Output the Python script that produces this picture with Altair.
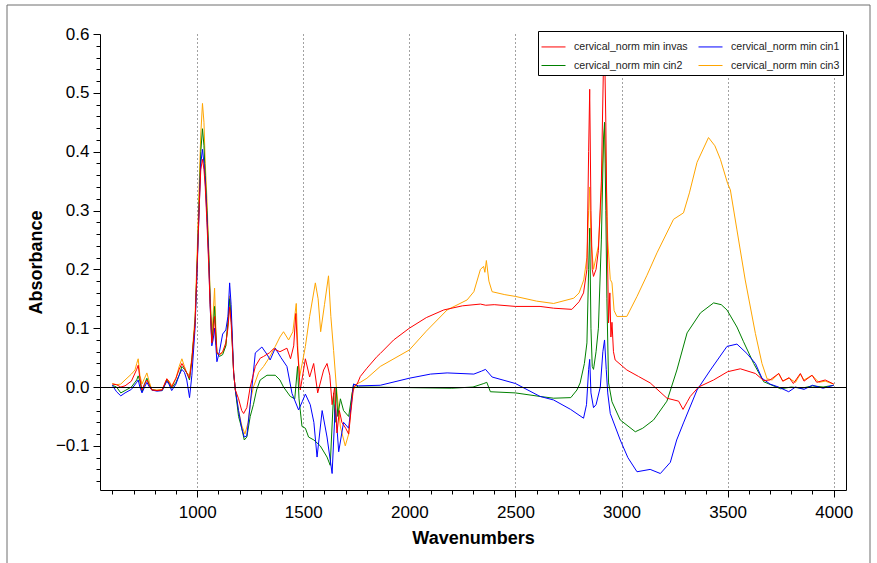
import altair as alt
import pandas as pd

# ---- spectra: wavenumber (cm-1) and absorbance for each sample group ----
series_labels = [
    "cervical_norm min invas",
    "cervical_norm min cin1",
    "cervical_norm min cin2",
    "cervical_norm min cin3",
]
series_colors = ["#ff0000", "#0000ff", "#008000", "#ffa500"]

wn_invas = [600, 620, 640, 660, 690, 715, 722, 730, 740, 752, 763, 775, 786, 810, 835, 857, 868, 880,
            900, 915, 928, 940, 951, 964, 975, 990, 1000, 1010, 1017, 1025, 1032, 1038, 1046, 1054,
            1061, 1069, 1075, 1082, 1088, 1093, 1105, 1120, 1135, 1145, 1153, 1160, 1172, 1180, 1195,
            1210, 1219, 1234, 1250, 1274, 1297, 1313, 1340, 1360, 1390, 1423, 1440, 1455, 1465, 1472,
            1486, 1510, 1530, 1549, 1568, 1596, 1612, 1625, 1636, 1648, 1659, 1670, 1682, 1700, 1714,
            1725, 1737, 1754, 1769, 1800, 1848, 1863, 1926, 2000, 2080, 2162, 2250, 2335, 2360, 2400,
            2500, 2616, 2680, 2766, 2800, 2821, 2837, 2845, 2850, 2856, 2862, 2868, 2880, 2891, 2905,
            2915, 2920, 2926, 2931, 2939, 2945, 2950, 2955, 2962, 2970, 3025, 3080, 3135, 3214, 3269,
            3290, 3310, 3324, 3363, 3434, 3500, 3560, 3631, 3670, 3700, 3741, 3760, 3790, 3810, 3843,
            3860, 3898, 3920, 3960, 4000]
abs_invas = [0.005, 0.004, 0.0, 0.002, 0.01, 0.03, 0.037, 0.015, -0.005, 0.005, 0.012, 0.003, -0.005,
             -0.006, -0.005, 0.014, 0.008, 0.0, 0.015, 0.03, 0.04, 0.032, 0.024, 0.015, 0.046, 0.109,
             0.21, 0.31, 0.37, 0.387, 0.37, 0.34, 0.28, 0.21, 0.14, 0.075, 0.09, 0.12, 0.085, 0.058,
             0.055, 0.06, 0.075, 0.1, 0.136, 0.11, 0.024, -0.005, -0.02, -0.04, -0.045, -0.035, 0.0,
             0.035, 0.049, 0.052, 0.058, 0.065, 0.06, 0.066, 0.048, 0.07, 0.125, 0.07, -0.005, 0.048,
             0.017, 0.04, -0.01, 0.029, 0.04, 0.02, -0.03, 0.0, -0.078, -0.04, -0.06, -0.07, -0.08,
             -0.04, 0.0, 0.005, 0.018, 0.032, 0.052, 0.057, 0.08, 0.1, 0.118, 0.131, 0.138, 0.141,
             0.139, 0.14, 0.137, 0.137, 0.134, 0.132, 0.145, 0.16, 0.2, 0.4, 0.506, 0.3, 0.2, 0.188,
             0.2, 0.232, 0.35, 0.55, 0.58, 0.45, 0.29, 0.109, 0.16, 0.085, 0.11, 0.06, 0.046, 0.029,
             0.018, 0.007, -0.019, -0.024, -0.038, -0.025, -0.016, 0.0, 0.012, 0.026, 0.031, 0.023,
             0.011, 0.012, 0.023, 0.01, 0.016, 0.006, 0.023, 0.01, 0.02, 0.008, 0.012, 0.005]

wn_cin1 = [600, 620, 640, 660, 690, 715, 722, 730, 740, 752, 763, 775, 786, 810, 835, 857, 868, 880,
           900, 915, 928, 940, 951, 964, 975, 990, 1000, 1010, 1017, 1025, 1032, 1038, 1046, 1054,
           1061, 1069, 1075, 1082, 1088, 1093, 1105, 1120, 1135, 1145, 1153, 1160, 1172, 1180, 1195,
           1210, 1222, 1234, 1250, 1274, 1305, 1330, 1344, 1368, 1395, 1423, 1447, 1478, 1495, 1510,
           1533, 1550, 1565, 1589, 1612, 1636, 1651, 1667, 1690, 1714, 1737, 1760, 1863, 2000, 2100,
           2178, 2304, 2340, 2359, 2390, 2500, 2616, 2680, 2760, 2821, 2835, 2845, 2850, 2856, 2868,
           2880, 2900, 2912, 2920, 2928, 2935, 2947, 2994, 3030, 3073, 3135, 3183, 3230, 3260, 3292,
           3356, 3419, 3497, 3544, 3591, 3631, 3662, 3700, 3740, 3788, 3820, 3860, 3900, 3950, 4000]
abs_cin1 = [0.003, -0.008, -0.015, -0.01, -0.004, 0.008, 0.012, 0.0, -0.01, 0.0, 0.008, 0.0, -0.005,
            -0.007, -0.006, 0.01, 0.004, -0.006, 0.005, 0.02, 0.03, 0.025, 0.012, -0.018, 0.02, 0.1,
            0.2, 0.31, 0.38, 0.404, 0.38, 0.35, 0.29, 0.22, 0.14, 0.07, 0.08, 0.1, 0.07, 0.043, 0.06,
            0.09, 0.097, 0.12, 0.177, 0.14, 0.024, -0.005, -0.04, -0.07, -0.085, -0.083, -0.03, 0.058,
            0.068, 0.055, 0.046, 0.066, 0.05, 0.035, -0.011, -0.039, -0.025, -0.012, -0.03, -0.06,
            -0.119, -0.04, -0.085, -0.147, -0.03, -0.11, -0.06, -0.07, 0.005, 0.002, 0.003, 0.015,
            0.022, 0.024, 0.022, 0.027, 0.03, 0.017, 0.006, -0.016, -0.022, -0.038, -0.053, -0.03,
            0.03, 0.047, -0.01, -0.035, -0.03, 0.0, 0.06, 0.08, 0.03, -0.01, -0.045, -0.09, -0.12,
            -0.144, -0.14, -0.147, -0.128, -0.09, -0.061, -0.005, 0.029, 0.069, 0.073, 0.057, 0.04,
            0.015, 0.005, 0.0, -0.008, 0.0, -0.004, 0.003, -0.002, 0.003]

wn_cin2 = [600, 620, 640, 660, 690, 715, 722, 730, 740, 752, 763, 775, 786, 810, 835, 857, 868, 880,
           900, 915, 928, 940, 951, 964, 975, 990, 1000, 1010, 1017, 1025, 1032, 1038, 1046, 1054,
           1061, 1069, 1075, 1082, 1088, 1093, 1105, 1120, 1135, 1145, 1153, 1160, 1172, 1180, 1195,
           1210, 1222, 1234, 1250, 1265, 1280, 1297, 1329, 1368, 1390, 1407, 1439, 1460, 1473, 1480,
           1494, 1510, 1525, 1550, 1580, 1612, 1627, 1643, 1650, 1655, 1663, 1675, 1690, 1714, 1737,
           1760, 2000, 2200, 2300, 2351, 2365, 2382, 2500, 2616, 2680, 2761, 2790, 2805, 2825, 2837,
           2845, 2850, 2856, 2862, 2868, 2880, 2891, 2905, 2915, 2920, 2926, 2931, 2939, 2955, 2994,
           3065, 3100, 3151, 3214, 3261, 3309, 3372, 3434, 3470, 3497, 3544, 3575, 3623, 3670, 3750,
           3800, 3850, 3900, 3950, 4000]
abs_cin2 = [0.003, 0.0, -0.01, -0.006, 0.0, 0.012, 0.019, 0.01, -0.008, 0.005, 0.015, 0.003, -0.005,
            -0.006, -0.006, 0.012, 0.006, -0.002, 0.008, 0.02, 0.035, 0.03, 0.024, 0.012, 0.046,
            0.109, 0.21, 0.32, 0.4, 0.439, 0.41, 0.36, 0.3, 0.23, 0.15, 0.075, 0.1, 0.137, 0.09, 0.058,
            0.052, 0.055, 0.07, 0.11, 0.15, 0.12, 0.024, -0.005, -0.05, -0.07, -0.09, -0.085, -0.05,
            -0.03, -0.005, 0.012, 0.02, 0.02, 0.012, 0.0, -0.016, -0.02, 0.035, -0.02, -0.067, -0.07,
            -0.085, -0.09, -0.1, -0.119, -0.133, -0.01, -0.06, 0.0, -0.05, -0.02, -0.04, -0.05, 0.005,
            0.0, -0.001, -0.002, 0.0, 0.006, 0.008, -0.008, -0.01, -0.016, -0.019, -0.018, -0.005,
            0.007, 0.04, 0.075, 0.2, 0.27, 0.1, 0.035, 0.03, 0.06, 0.1, 0.25, 0.42, 0.45, 0.3, 0.15,
            0.007, -0.025, -0.056, -0.076, -0.07, -0.056, -0.024, 0.029, 0.092, 0.126, 0.143, 0.14,
            0.131, 0.102, 0.077, 0.04, 0.009, -0.003, 0.0, -0.002, 0.002, 0.0, 0.003]

wn_cin3 = [600, 620, 640, 660, 690, 707, 715, 722, 730, 740, 752, 763, 775, 786, 810, 835, 857, 868,
           880, 900, 915, 928, 940, 951, 964, 975, 990, 1000, 1010, 1017, 1025, 1032, 1038, 1046,
           1054, 1061, 1069, 1075, 1082, 1088, 1093, 1105, 1120, 1135, 1145, 1153, 1160, 1172, 1180,
           1195, 1210, 1225, 1240, 1253, 1265, 1290, 1313, 1340, 1368, 1390, 1407, 1431, 1451, 1467,
           1475, 1483, 1495, 1510, 1530, 1557, 1570, 1582, 1600, 1619, 1630, 1643, 1656, 1675, 1698,
           1714, 1730, 1750, 1769, 1800, 1863, 2000, 2080, 2178, 2272, 2304, 2335, 2350, 2356, 2363,
           2375, 2390, 2450, 2500, 2600, 2680, 2775, 2800, 2822, 2837, 2845, 2850, 2856, 2868, 2891,
           2905, 2915, 2920, 2926, 2935, 2947, 2955, 2965, 2978, 3025, 3073, 3120, 3167, 3245, 3292,
           3320, 3356, 3410, 3440, 3466, 3500, 3513, 3544, 3583, 3631, 3662, 3686, 3710, 3741, 3760,
           3790, 3820, 3843, 3860, 3898, 3930, 3960, 4000]
abs_cin3 = [0.006, 0.004, 0.005, 0.012, 0.022, 0.029, 0.04, 0.048, 0.02, 0.005, 0.015, 0.024, 0.008,
            -0.004, -0.005, -0.004, 0.014, 0.01, 0.002, 0.015, 0.035, 0.048, 0.035, 0.024, 0.02, 0.05,
            0.12, 0.23, 0.35, 0.43, 0.482, 0.45, 0.38, 0.32, 0.24, 0.16, 0.09, 0.12, 0.168, 0.1, 0.06,
            0.055, 0.058, 0.07, 0.11, 0.155, 0.12, 0.024, -0.005, -0.04, -0.065, -0.08, -0.06, -0.02,
            0.0, 0.025, 0.035, 0.05, 0.069, 0.085, 0.094, 0.08, 0.094, 0.142, 0.06, 0.018, 0.04,
            0.069, 0.12, 0.177, 0.15, 0.094, 0.14, 0.189, 0.12, 0.062, 0.0, -0.068, -0.1, -0.08,
            -0.01, 0.005, 0.008, 0.015, 0.035, 0.063, 0.095, 0.131, 0.148, 0.162, 0.2, 0.205, 0.195,
            0.215, 0.18, 0.162, 0.157, 0.154, 0.146, 0.142, 0.151, 0.16, 0.182, 0.22, 0.3, 0.34, 0.25,
            0.2, 0.24, 0.33, 0.42, 0.44, 0.38, 0.25, 0.183, 0.177, 0.13, 0.12, 0.12, 0.154, 0.19,
            0.228, 0.285, 0.296, 0.33, 0.382, 0.424, 0.41, 0.387, 0.346, 0.335, 0.267, 0.182, 0.091,
            0.04, 0.014, 0.012, 0.023, 0.01, 0.015, 0.008, 0.022, 0.012, 0.02, 0.008, 0.01, 0.005]

# axis tick positions: minor every 100 cm-1 / 0.02 absorbance, labels on the majors
x_tick_values = list(range(600, 4001, 100))
y_tick_values = [round(-0.16 + 0.02 * i, 2) for i in range(39)]

spectra = [
    (series_labels[0], wn_invas, abs_invas),
    (series_labels[1], wn_cin1, abs_cin1),
    (series_labels[2], wn_cin2, abs_cin2),
    (series_labels[3], wn_cin3, abs_cin3),
]
df = pd.concat(
    [pd.DataFrame({"wavenumber": w, "absorbance": a, "series": name}) for name, w, a in spectra],
    ignore_index=True,
)

FONT = "Liberation Sans"
x_major = "datum.value % 500 == 0"
y_major = "abs(datum.value * 10 - round(datum.value * 10)) < 0.000001"

x_scale = alt.Scale(domain=[542, 4058], nice=False, zero=False)
y_scale = alt.Scale(domain=[-0.175, 0.6], nice=False, zero=False)

x_enc = alt.X(
    "wavenumber:Q",
    scale=x_scale,
    axis=alt.Axis(
        title="Wavenumbers",
        values=x_tick_values,
        labelExpr=f"{x_major} ? format(datum.value, 'd') : ''",
        labelOverlap=False,
        labelFlush=False,
        labelFontSize=17,
        labelFont=FONT,
        labelColor="black",
        labelPadding=7,
        tickSize={"condition": {"test": x_major, "value": 7}, "value": 4},
        tickColor="black",
        domainColor="black",
        grid=True,
        gridColor="#444444",
        gridDash=[1, 3],
        gridOpacity={"condition": {"test": x_major, "value": 1}, "value": 0},
        titleFont=FONT,
        titleFontSize=18,
        titleFontWeight="bold",
        titleColor="black",
        titlePadding=9,
    ),
)

y_enc = alt.Y(
    "absorbance:Q",
    scale=y_scale,
    axis=alt.Axis(
        title="Absorbance",
        values=y_tick_values,
        labelExpr=f"{y_major} ? format(datum.value, '.1f') : ''",
        labelOverlap=False,
        labelFlush=False,
        labelFontSize=17,
        labelFont=FONT,
        labelColor="black",
        labelPadding=4,
        tickSize={"condition": {"test": y_major, "value": 7}, "value": 4},
        tickColor="black",
        domainColor="black",
        grid=True,
        gridColor="black",
        gridOpacity={"condition": {"test": "datum.value == 0", "value": 1}, "value": 0},
        titleFont=FONT,
        titleFontSize=18,
        titleFontWeight="bold",
        titleColor="black",
        titlePadding=10,
        zindex=1,
    ),
)

color_enc = alt.Color(
    "series:N",
    scale=alt.Scale(domain=series_labels, range=series_colors),
    legend=alt.Legend(
        title=None,
        orient="none",
        legendX=438,
        legendY=-3,
        direction="horizontal",
        columns=2,
        columnPadding=8,
        rowPadding=0,
        symbolType="stroke",
        symbolSize=576,
        symbolStrokeWidth=1,
        labelFont=FONT,
        labelFontSize=10.6,
        labelColor="#222222",
        labelOffset=8,
        fillColor="white",
        strokeColor="black",
        padding=3,
    ),
)

# cin3 drawn first, invasive last so it sits on top
line_layers = [
    alt.Chart(df)
    .transform_filter(alt.datum.series == name)
    .mark_line(strokeWidth=1, clip=True)
    .encode(x=x_enc, y=y_enc, color=color_enc)
    for name in reversed(series_labels)
]
spectra_layer = alt.layer(*line_layers)

# right-hand frame line of the plot area
right_frame = (
    alt.Chart(df)
    .mark_line(opacity=0)
    .encode(
        x=x_enc,
        y=alt.Y(
            "absorbance:Q",
            scale=y_scale,
            axis=alt.Axis(orient="right", labels=False, ticks=False, grid=False,
                          title=None, domainColor="black"),
        ),
    )
)

# thin border around the whole panel
panel_border = (
    alt.Chart(pd.DataFrame({"panel": [0]}))
    .mark_rect(filled=False, stroke="#6e6e6e", strokeWidth=1)
    .encode(x=alt.value(-93), x2=alt.value(770), y=alt.value(-29), y2=alt.value(560))
)

chart = (
    alt.layer(spectra_layer, right_frame, panel_border)
    .resolve_axis(y="independent")
    .properties(
        width=746,
        height=456,
        autosize=alt.AutoSizeParams(type="none"),
        padding={"left": 100, "top": 34, "right": 31, "bottom": 73},
        background="white",
    )
    .configure_view(stroke=None)
)

chart.save("out.html", embed_options={"renderer": "svg", "actions": False})
